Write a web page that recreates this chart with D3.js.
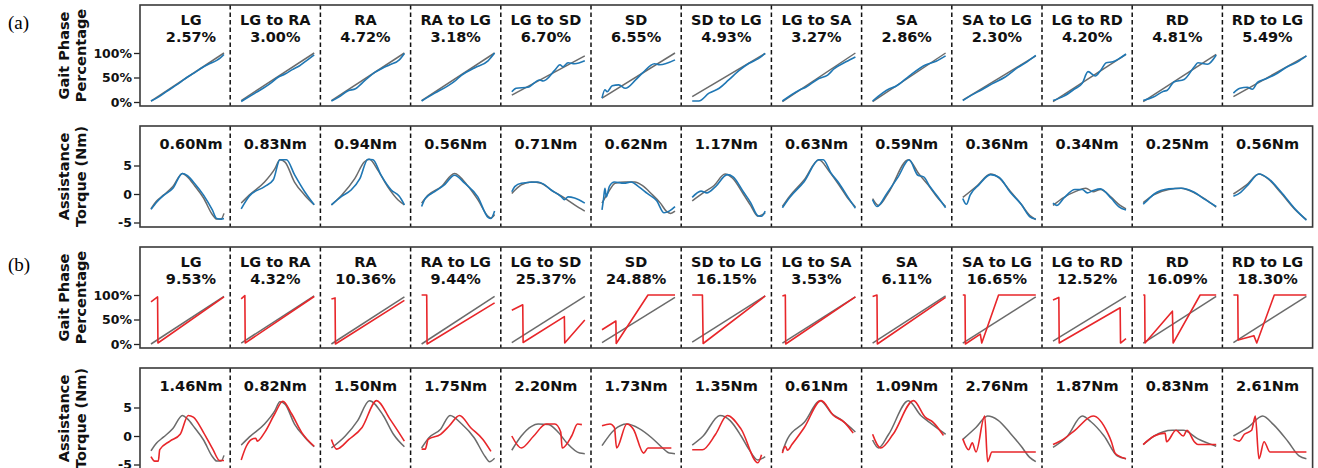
<!DOCTYPE html>
<html><head><meta charset="utf-8">
<script src="https://cdn.jsdelivr.net/npm/d3@7"></script>
<style>body{margin:0;background:#fff} svg{display:block} text{font-family:"DejaVu Sans",sans-serif}</style>
</head><body><svg id="c" width="1318" height="468"></svg>
<script>
const modes = ["LG","LG to RA","RA","RA to LG","LG to SD","SD","SD to LG","LG to SA","SA","SA to LG","LG to RD","RD","RD to LG"];
const phaseErrA = ["2.57%","3.00%","4.72%","3.18%","6.70%","6.55%","4.93%","3.27%","2.86%","2.30%","4.20%","4.81%","5.49%"];
const torqueErrA = ["0.60Nm","0.83Nm","0.94Nm","0.56Nm","0.71Nm","0.62Nm","1.17Nm","0.63Nm","0.59Nm","0.36Nm","0.34Nm","0.25Nm","0.56Nm"];
const phaseErrB = ["9.53%","4.32%","10.36%","9.44%","25.37%","24.88%","16.15%","3.53%","6.11%","16.65%","12.52%","16.09%","18.30%"];
const torqueErrB = ["1.46Nm","0.82Nm","1.50Nm","1.75Nm","2.20Nm","1.73Nm","1.35Nm","0.61Nm","1.09Nm","2.76Nm","1.87Nm","0.83Nm","2.61Nm"];
const phaseTicks = [0,50,100];
const torqueTicks = [-5,0,5];

// (a) gait phase: ground truth (gray) and estimate (blue), [phase fraction, %]
const phaseRefA = [
 [[0,2],[1,100]],[[0,3],[1,100]],[[0,3],[1,100]],[[0,3],[1,100]],[[0,14],[1,94]],[[0,8],[1,100]],
 [[0,11],[1,99]],[[0,1],[1,100]],[[0,1],[1,100]],[[0,4],[1,94]],[[0,1],[1,97]],[[0,1],[1,97]],[[0,11],[1,94]]];
const phaseEstA = [
 [[0,2],[.1,10],[.2,20],[.3,30],[.4,40],[.5,51],[.6,60],[.7,70],[.8,78],[.9,85],[.95,90],[1,97]],
 [[0,1],[.1,10],[.2,19],[.3,28],[.4,38],[.5,50],[.6,57],[.7,66],[.8,74],[.9,85],[1,96]],
 [[0,2],[.1,10],[.23,23],[.33,27],[.46,44],[.6,61],[.7,69],[.8,76],[.93,86],[1,99]],
 [[0,2],[.18,18],[.36,33],[.45,42],[.55,55],[.73,70],[.91,84],[1,100]],
 [[0,21],[.06,28],[.22,30],[.38,45],[.43,43],[.59,65],[.66,76],[.7,72],[.77,80],[.86,78],[1,84]],
 [[0,8],[.04,25],[.07,21],[.14,33],[.23,35],[.32,28],[.46,45],[.56,60],[.72,78],[.79,76],[1,86]],
 [[0,2],[.09,2],[.23,18],[.37,28],[.5,45],[.64,64],[.78,79],[.9,88],[1,99]],
 [[0,2],[.23,24],[.32,30],[.5,48],[.62,55],[.71,68],[.87,82],[1,92]],
 [[0,2],[.23,27],[.32,32],[.5,53],[.73,76],[.87,83],[1,94]],
 [[0,3],[.12,14],[.26,25],[.4,37],[.58,51],[.75,70],[.88,82],[1,95]],
 [[0,3],[.15,12],[.3,27],[.4,38],[.48,62],[.58,53],[.65,64],[.73,80],[.82,82],[.9,88],[1,98]],
 [[0,3],[.14,10],[.28,22],[.33,24],[.42,41],[.56,46],[.7,72],[.75,80],[.88,77],[1,96]],
 [[0,18],[.09,28],[.19,30],[.26,26],[.33,40],[.42,46],[.56,55],[.74,72],[.88,82],[1,94]]];

// (a) assistance torque: reference (gray) and estimate (blue), [phase fraction, Nm]
const torqueRefA = [
 [[0,-2.6],[.08,-1.2],[.17,-0.2],[.3,1.3],[.43,3.6],[.5,3.0],[.6,1.4],[.72,-0.7],[.84,-3.6],[.9,-4.4],[.96,-4.4],[1,-3.4]],
 [[0,-1.6],[.11,-0.2],[.32,2.1],[.46,4.4],[.53,6.0],[.6,5.6],[.73,2.1],[.87,-0.2],[1,-1.9]],
 [[0,-1.9],[.14,-0.2],[.32,2.7],[.45,5.6],[.52,6.1],[.64,4.1],[.77,1.3],[.91,-1.0],[1,-1.9]],
 [[0,-1.6],[.09,-0.2],[.27,1.3],[.45,3.6],[.64,1.3],[.77,-1.0],[.91,-3.9],[.95,-4.2],[1,-3.6]],
 [[0,0.1],[.13,1.6],[.27,2.1],[.4,1.9],[.54,0.7],[.72,-0.7],[.86,-1.9],[1,-3.0]],
 [[0,-1.6],[.09,0.4],[.18,1.9],[.32,2.1],[.45,2.1],[.55,1.5],[.68,0.0],[.8,-1.6],[.88,-3.0],[.94,-3.4],[1,-3.0]],
 [[0,-1.2],[.15,0.2],[.3,1.5],[.45,3.5],[.55,2.8],[.7,0.0],[.8,-2.0],[.9,-3.9],[1,-3.3]],
 [[0,-2.2],[.1,-0.4],[.3,2.5],[.5,6.0],[.64,4.0],[.78,1.5],[.9,-0.8],[1,-2.3]],
 [[0,-0.8],[.08,-2.0],[.22,0.3],[.49,6.0],[.63,3.6],[.76,1.6],[.88,-0.5],[1,-2.2]],
 [[0,-0.6],[.2,1.5],[.38,3.5],[.5,2.8],[.65,0.5],[.8,-1.8],[.92,-3.8],[1,-4.5]],
 [[0,-2.0],[.15,-0.6],[.32,0.5],[.45,1.0],[.55,0.4],[.65,0.8],[.8,-0.6],[.92,-2.0],[1,-2.6]],
 [[0,-1.5],[.15,-0.1],[.35,0.8],[.52,1.0],[.7,0.2],[.85,-0.9],[1,-2.3]],
 [[0,0.0],[.18,1.6],[.35,3.5],[.48,2.6],[.65,0.2],[.85,-2.8],[1,-4.5]]];
const torqueEstA = [
 [[0,-2.7],[.08,-1.4],[.17,-0.3],[.3,1.0],[.43,3.6],[.5,3.2],[.6,1.8],[.72,-0.2],[.84,-2.8],[.9,-4.3],[.96,-4.4],[1,-4.3]],
 [[0,-2.6],[.11,-0.4],[.32,1.3],[.44,2.5],[.53,6.0],[.62,6.0],[.73,3.4],[.87,0.4],[1,-1.9]],
 [[0,-1.9],[.14,-0.4],[.27,0.7],[.39,2.7],[.5,6.1],[.57,6.0],[.68,3.3],[.82,0.7],[.93,-0.4],[1,-1.9]],
 [[0,-2.2],[.05,-0.8],[.18,0.4],[.32,1.7],[.45,3.3],[.59,1.9],[.77,-0.5],[.91,-4.1],[.95,-4.3],[1,-3.0]],
 [[0,0.4],[.04,1.3],[.13,1.9],[.36,2.1],[.45,1.6],[.54,0.7],[.68,-0.5],[.72,-1.0],[.77,-0.5],[.86,-0.7],[1,-1.6]],
 [[0,-2.8],[.02,-1.0],[.04,1.0],[.06,-0.5],[.1,1.3],[.17,2.1],[.3,1.9],[.4,2.1],[.5,1.3],[.62,0.1],[.75,-1.2],[.85,-3.3],[.92,-3.0],[1,-2.2]],
 [[0,-0.6],[.12,0.5],[.2,0.2],[.32,1.3],[.48,3.4],[.56,3.0],[.7,0.4],[.8,-1.5],[.9,-3.8],[.95,-3.9],[1,-3.0]],
 [[0,-2.4],[.1,-0.6],[.3,2.2],[.5,6.0],[.56,6.0],[.66,3.8],[.78,1.8],[.9,-0.6],[1,-2.5]],
 [[0,-1.0],[.06,-2.2],[.2,0.2],[.35,3.0],[.5,6.0],[.62,3.3],[.7,3.0],[.78,1.4],[.9,-0.6],[1,-2.4]],
 [[0,-0.8],[.05,-1.8],[.1,-0.2],[.22,1.6],[.38,3.4],[.5,2.9],[.65,0.3],[.8,-1.8],[.92,-4.0],[1,-4.4]],
 [[0,-1.6],[.05,-2.0],[.15,-0.7],[.3,0.8],[.4,0.8],[.47,0.2],[.55,0.6],[.65,0.9],[.8,-0.8],[.9,-2.2],[1,-2.8]],
 [[0,-1.8],[.05,-1.2],[.15,0.0],[.35,0.9],[.52,1.0],[.7,0.3],[.85,-1.0],[1,-2.2]],
 [[0,-0.4],[.1,0.3],[.2,1.6],[.35,3.5],[.48,2.7],[.65,0.4],[.85,-2.7],[1,-4.6]]];

// (b) gait phase: ground truth (gray) and estimate (red)
const phaseRefB = [
 [[0,0],[1,97]],[[0,2],[1,98]],[[0,0],[1,96]],[[0,0],[1,97]],[[0,3],[1,97]],[[0,3],[1,95]],[[0,4],[1,98]],
 [[0,2],[1,96]],[[0,2],[1,98]],[[0,2],[1,96]],[[0,6],[1,97]],[[0,2],[1,97]],[[0,3],[1,97]]];
const phaseEstB = [
 [[0,86],[.09,96],[.095,2],[1,96]],
 [[0,92],[.05,99],[.055,2],[1,97]],
 [[0,92],[.05,94],[.055,0],[1,89]],
 [[0,100],[.07,100],[.075,0],[1,84]],
 [[0,69],[.15,80],[.155,3],[.72,56],[.725,2],[1,49]],
 [[0,29],[.19,47],[.195,1],[.63,100],[1,100]],
 [[0,100],[.14,100],[.15,1],[1,98]],
 [[0,98],[.04,100],[.045,0],[1,96]],
 [[0,97],[.06,100],[.065,0],[1,95]],
 [[0,100],[.03,100],[.035,0],[.24,20],[.26,2],[.49,100],[1,100]],
 [[0,90],[.08,95],[.085,2],[.92,74],[.925,2],[1,11]],
 [[0,100],[.02,100],[.025,2],[.4,67],[.41,2],[.78,100],[1,100]],
 [[0,100],[.06,100],[.065,8],[.28,17],[.32,2],[.56,100],[1,100]]];

// (b) assistance torque: reference (gray) and estimate (red)
const torqueRefB = [
 [[0,-2.6],[.08,-1.2],[.17,-0.2],[.3,1.3],[.43,3.6],[.5,3.0],[.6,1.4],[.72,-0.7],[.84,-3.6],[.9,-4.4],[.96,-4.4],[1,-3.4]],
 [[0,-1.6],[.11,-0.2],[.32,2.1],[.46,4.4],[.53,6.0],[.6,5.6],[.73,2.1],[.87,-0.2],[1,-1.9]],
 [[0,-2.1],[.19,0.0],[.36,2.7],[.52,6.2],[.71,3.6],[.85,0.3],[1,-1.9]],
 [[0,-2.1],[.1,-0.3],[.26,1.2],[.39,3.6],[.55,2.1],[.72,-0.3],[.87,-3.6],[.93,-4.5],[1,-3.9]],
 [[0,-2.5],[.13,0.0],[.27,1.7],[.36,2.1],[.5,2.0],[.64,0.6],[.76,-1.3],[.93,-3.0],[1,-3.1]],
 [[0,-1.7],[.17,1.1],[.34,2.1],[.51,1.3],[.68,-0.3],[.83,-2.1],[.92,-3.0],[1,-3.1]],
 [[0,-1.6],[.15,0.0],[.38,3.6],[.52,2.7],[.67,0.0],[.78,-2.4],[.9,-4.2],[1,-3.6]],
 [[0,-2.7],[.07,-0.5],[.3,2.4],[.52,6.2],[.68,3.9],[.82,2.7],[1,0.7]],
 [[0,-0.7],[.08,-2.1],[.22,0.3],[.49,6.2],[.66,3.6],[.78,2.4],[1,0.3]],
 [[0,-0.6],[.18,1.5],[.34,3.5],[.48,2.8],[.65,0.5],[.8,-1.8],[.92,-3.8],[1,-4.5]],
 [[0,-2.0],[.2,0.0],[.4,3.5],[.52,2.5],[.7,0.0],[.88,-3.5],[1,-4.0]],
 [[0,-1.5],[.15,0.0],[.4,1.0],[.55,1.0],[.75,-0.5],[1,-1.8]],
 [[0,0.0],[.2,1.5],[.4,3.5],[.55,2.0],[.75,-1.0],[.9,-3.5],[1,-4.0]]];
const torqueEstB = [
 [[0,-3.6],[.05,-4.4],[.1,-4.4],[.12,-2.4],[.26,-0.9],[.4,0.3],[.51,3.6],[.58,3.3],[.72,0.6],[.85,-2.4],[.94,-4.3],[1,-4.3]],
 [[0,-4.2],[.07,-1.8],[.14,-0.6],[.2,-0.4],[.22,-0.9],[.32,0.6],[.46,3.9],[.57,6.1],[.69,3.9],[.83,0.6],[1,-1.8]],
 [[0,-0.6],[.07,-2.3],[.24,-0.6],[.42,1.5],[.62,6.2],[.8,3.0],[1,-0.9]],
 [[0,-2.3],[.05,-2.3],[.09,-0.6],[.26,0.3],[.38,1.8],[.52,3.6],[.67,1.5],[.84,-0.6],[.95,-2.7]],
 [[0,0.0],[.13,-2.1],[.3,0.0],[.47,2.1],[.59,2.1],[.67,0.7],[.69,-2.1],[.82,0.0],[.9,2.1],[.96,2.0]],
 [[0,1.8],[.11,2.1],[.17,1.5],[.2,-2.1],[.34,2.1],[.43,1.2],[.57,-3.0],[.63,-2.1],[.95,-2.1]],
 [[0,-2.4],[.14,-2.4],[.32,0.3],[.48,3.6],[.67,1.2],[.9,-4.7],[.95,-3.3]],
 [[0,-3.0],[.04,-1.8],[.07,-2.5],[.13,-1.5],[.3,1.5],[.53,6.2],[.7,3.6],[.85,2.4],[.97,0.5]],
 [[0,0.3],[.11,-2.1],[.28,0.3],[.56,6.2],[.72,3.3],[.83,2.4],[.97,0.1]],
 [[0,-0.5],[.08,-2.4],[.13,-1.2],[.18,-2.8],[.3,3.5],[.34,-4.5],[.4,-2.8],[1,-2.8]],
 [[0,-1.5],[.15,-0.5],[.3,1.0],[.55,3.5],[.75,0.5],[.8,-1.0],[.85,-3.0],[.9,-3.5],[1,-4.0]],
 [[0,-1.5],[.15,0.0],[.3,0.5],[.32,-1.0],[.45,1.0],[.55,0.0],[.6,1.0],[.7,-1.0],[.75,-1.5],[1,-1.5]],
 [[0,-0.5],[.08,-0.9],[.15,0.3],[.25,1.0],[.3,3.5],[.35,-4.0],[.42,-1.0],[.5,-2.8],[1,-2.8]]];

const svg = d3.select("#c");
const L = 140, colW = 90.2, nCol = modes.length, R = L + colW*nCol;
const panels = [
 {top:5, bottom:106, dom:[0,100], rng:[102,53], ticks:phaseTicks, fmt:d=>d+"%", lines:[modes, phaseErrA], ref:phaseRefA, est:phaseEstA, color:"#1f77b4", label:["Gait Phase","Percentage"], curve:d3.curveMonotoneX},
 {top:126, bottom:227, dom:[-5,5], rng:[222.5,165.5], ticks:torqueTicks, fmt:d=>d, lines:[torqueErrA], ref:torqueRefA, est:torqueEstA, color:"#1f77b4", label:["Assistance","Torque (Nm)"], curve:d3.curveMonotoneX},
 {top:247, bottom:348, dom:[0,100], rng:[344,295], ticks:phaseTicks, fmt:d=>d+"%", lines:[modes, phaseErrB], ref:phaseRefB, est:phaseEstB, color:"#e8262a", label:["Gait Phase","Percentage"], curve:d3.curveLinear},
 {top:368, bottom:469, dom:[-5,5], rng:[464.5,407.5], ticks:torqueTicks, fmt:d=>d, lines:[torqueErrB], ref:torqueRefB, est:torqueEstB, color:"#e8262a", label:["Assistance","Torque (Nm)"], curve:d3.curveMonotoneX}
];

panels.forEach(p => {
  const g = svg.append("g");
  const y = d3.scaleLinear().domain(p.dom).range(p.rng);
  const ax = g.append("g").attr("transform",`translate(${L},0)`)
    .call(d3.axisLeft(y).tickValues(p.ticks).tickSize(6).tickPadding(2).tickFormat(p.fmt));
  ax.select(".domain").remove();
  ax.selectAll("line").attr("stroke","#222").attr("stroke-width",1.3);
  ax.selectAll("text").attr("font-size",12.5).attr("font-weight","bold").attr("fill","#111")
    .style("font-family","'DejaVu Sans',sans-serif");
  d3.range(1,nCol).forEach(i => {
    g.append("line").attr("x1",L+colW*i).attr("x2",L+colW*i).attr("y1",p.top).attr("y2",p.bottom)
     .attr("stroke","#111").attr("stroke-width",1.5).attr("stroke-dasharray","4.5,3");
  });
  modes.forEach((m,i) => {
    const x = d3.scaleLinear().domain([0,1]).range([L+colW*i+11, L+colW*i+84]);
    const refLine = d3.line().x(d=>x(d[0])).y(d=>y(d[1])).curve(d3.curveMonotoneX);
    const estLine = d3.line().x(d=>x(d[0])).y(d=>y(d[1])).curve(p.curve);
    g.append("path").attr("d", refLine(p.ref[i]))
      .attr("fill","none").attr("stroke","#6b6b6b").attr("stroke-width",1.5);
    g.append("path").attr("d", estLine(p.est[i])).attr("fill","none").attr("stroke",p.color).attr("stroke-width",1.6)
      .attr("stroke-linejoin","round");
    const cx = i===0 ? L+51 : L+colW*i+colW/2;
    p.lines.forEach((arr,k) => {
      g.append("text").attr("x",cx).attr("y",p.lines.length===2 ? p.top+20+17*k : p.top+23)
        .attr("text-anchor","middle").attr("font-size",14.5).attr("font-weight","bold").attr("fill","#111").text(arr[i]);
    });
  });
  g.append("rect").attr("x",L).attr("y",p.top).attr("width",R-L).attr("height",p.bottom-p.top)
    .attr("fill","none").attr("stroke","#3a3a3a").attr("stroke-width",1.6);
  const cy = (p.top+p.bottom)/2;
  p.label.forEach((t,k) => {
    g.append("text").attr("transform",`translate(${69+16.5*k},${cy}) rotate(-90)`)
     .attr("text-anchor","middle").attr("font-size",14.5).attr("font-weight","bold").attr("fill","#111").text(t);
  });
});
svg.append("text").attr("x",8).attr("y",29).attr("font-size",19).style("font-family","'Liberation Serif',serif").text("(a)");
svg.append("text").attr("x",8).attr("y",271).attr("font-size",19).style("font-family","'Liberation Serif',serif").text("(b)");
</script></body></html>
